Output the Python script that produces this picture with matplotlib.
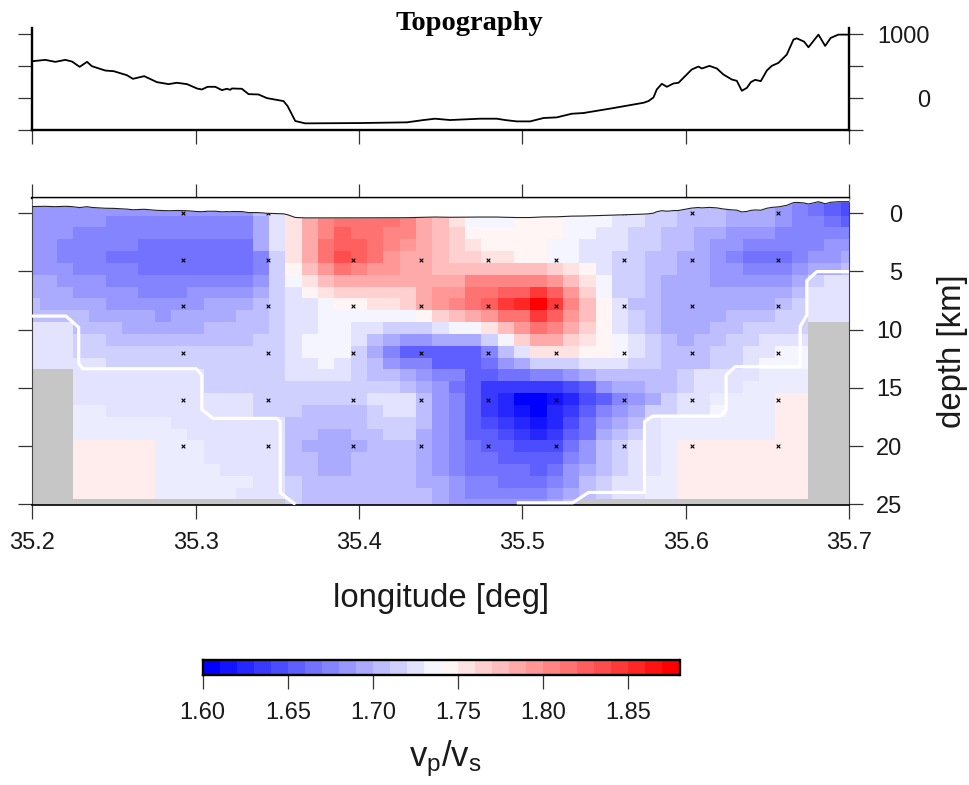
import numpy as np
import matplotlib
matplotlib.use("Agg")
import matplotlib.pyplot as plt
from matplotlib.colors import Normalize

plt.rcParams['font.family'] = ['Liberation Sans', 'DejaVu Sans']
plt.rcParams['mathtext.fontset'] = 'custom'
plt.rcParams['mathtext.rm'] = 'Liberation Sans'
plt.rcParams['mathtext.default'] = 'regular'

W, H = 969, 785

# topography profile, lon [deg] / elevation [m]
topo_lon = [35.2, 35.208, 35.2141, 35.2202, 35.2243, 35.229, 35.2335, 35.2365, 35.2447, 35.2498,
            35.2579, 35.2616, 35.2685, 35.2763, 35.2834, 35.2885, 35.2947, 35.3008, 35.3038, 35.3073,
            35.312, 35.3161, 35.3191, 35.3212, 35.3222, 35.3283, 35.3324, 35.3385, 35.3436, 35.3538,
            35.3563, 35.361, 35.3671, 35.4007, 35.4293, 35.4395, 35.4466, 35.4558, 35.474, 35.4844,
            35.4895, 35.4966, 35.5048, 35.513, 35.5211, 35.5303, 35.5374, 35.5558, 35.5742, 35.5772,
            35.5803, 35.5823, 35.5854, 35.5885, 35.5925, 35.5956, 35.6037, 35.6078, 35.6099, 35.6146,
            35.6191, 35.6231, 35.6282, 35.6313, 35.6344, 35.6375, 35.6399, 35.6425, 35.646, 35.6497,
            35.6527, 35.6568, 35.6619, 35.666, 35.668, 35.6725, 35.6752, 35.6813, 35.6854, 35.6888,
            35.6935, 35.7]
topo_elev = [578, 599, 568, 599, 573, 490, 568, 500, 432, 422,
             359, 302, 344, 250, 219, 240, 219, 151, 135, 177,
             177, 125, 146, 130, 151, 146, 62, 57, 0, -47,
             -125, -359, -396, -391, -380, -344, -323, -344, -323, -323,
             -344, -365, -365, -312, -302, -245, -234, -156, -73, -47,
             10, 135, 224, 177, 229, 240, 448, 495, 464, 505,
             464, 370, 292, 271, 115, 161, 250, 286, 266, 432,
             505, 552, 682, 917, 937, 885, 797, 995, 818, 943,
             995, 995]

# vp/vs model, one char per cell: base-36 bin number on the colour scale
# x, y = paler in-between shades, . = no data
vpvs_rows = [
    "88888888888888acfiklllkkihfdddeeedddccbbaaa99987654",
    "888887777777779cfikllllkihfdddeeedddccbbaaa99987765",
    "888777777777779cfikmllkkihgeeeeeeddccbbaa9988877777",
    "887777766666669cfilmmlkjihgfeeeeddcccbbaa9887777788",
    "887776666666667bfilnmljiihggffeeddccbbaa99876667889",
    "888777766666667behjlkjjiihhhhhhhgfecbbaa9988777899a",
    "998887777777778bdfhiiiiiiiikkkkkjhfdbba99988888 9bcc".replace(" ", ""),
    "999888877788889bcefgggggijjllmmomjgdbba99999999accc",
    "a9999888888999abccdeeffgijklmoprokhecaa9999999abccc",
    "aaaa999989999aabccddddddeghijllomjhecba9999aaabbccc",
    "cccaaa99999aaaabccddccbbbcddfhjlkigecba999aabbbb...",
    "cccbbaaaaaaaaabbcdddca988999bdgiigfedcba9aabbccc...",
    "cccbbbbbbbbbbbbbcdddb97555557acfffeedcbaaabbccdd...",
    "cccccbbbbbbbbbbbccdcba877555689bbbcccbbaaabbcddd...",
    "...ccccccccbbbbbccccbaa987755667789aaaaabccccxxx...",
    "...ccccccccbbbbbbbbbbbba98653333345899aabcccxxxx...",
    "...cccccccccccbbbbbbbccca87532001245789bccxxxxyy...",
    "...xxcccccccccbbbaaaabcca8753210235789bbccdxxxyy...",
    "...xxxxxxcccccccaaaaabbba875432124689acxxxxxxxyy...",
    "...xxxxxxxccccccaa99aabb987554323569abcxxxxxxxyy...",
    "...yyyyyxxxccccca9999aaa98765544468abccxyyyyyyyy...",
    "...yyyyyxxxcccccaa99aaaa98766555578abccxyyyyyyyy...",
    "...yyyyyxxxxccccaa99aaaa98766665689abccxyyyyyyyy...",
    "...yyyyyxxxxxxccbaaaaaaa9987766678abccxxyyyyyyyy...",
    "...yyyyyxxxxxcccbaaaaaaaa987777789abccxxyyyyyyyy...",
    "................baaaaaaaa98888889a.................",
]
shade_bins = {"x": 12.5, "y": 14.5}

# grid edges
lon_edges = np.concatenate([[35.2], 35.205 + 0.01 * np.arange(50), [35.7]])
depth_edges = np.concatenate([[-1.33], 0.2 + 1.016 * np.arange(25), [25.05]])

# hit-count contour
contour_left_lon = [35.2, 35.2206, 35.2284, 35.2284, 35.2308, 35.3004, 35.3038, 35.3038, 35.3106,
                    35.3497, 35.3518, 35.3518, 35.3603]
contour_left_dep = [8.83, 8.83, 9.8, 12.9, 13.35, 13.35, 13.9, 16.85, 17.62, 17.62, 17.9, 24.0, 24.93]
contour_right_lon = [35.4976, 35.5309, 35.5405, 35.5748, 35.5748, 35.5799, 35.6211, 35.6248, 35.6248,
                     35.6303, 35.6701, 35.6701, 35.6742, 35.6742, 35.6803, 35.7]
contour_right_dep = [24.87, 24.87, 23.98, 23.98, 17.9, 17.42, 17.42, 16.9, 13.9, 13.18, 13.18, 9.74,
                     8.74, 5.79, 5.01, 5.01]

node_lon = [35.2924, 35.3442, 35.3965, 35.4377, 35.4792, 35.5208, 35.5625, 35.6041, 35.6563]
node_dep = [0, 4, 8, 12, 16, 20]

lon_ticks = [35.2, 35.3, 35.4, 35.5, 35.6, 35.7]
depth_ticks = [0, 5, 10, 15, 20, 25]
elev_ticks = [-500, 0, 500, 1000]
elev_labels = ["", "0", "", "1000"]
bar_ticks = [1.60, 1.65, 1.70, 1.75, 1.80, 1.85]

TXT = "#1a1a1a"


def decode(rows):
    vals = []
    for row in rows:
        line = []
        for c in row:
            if c == ".":
                line.append(np.nan)
            else:
                line.append(1.605 + 0.01 * shade_bins.get(c, int(c, 36)))
        vals.append(line)
    return np.array(vals)


def px_axes(fig, left, top, right, bottom):
    return fig.add_axes([left / W, 1 - bottom / H, (right - left) / W, (bottom - top) / H])


def tick_style(ax):
    ax.tick_params(length=10, width=0.9, color="#333333", labelsize=17, labelcolor=TXT)


cmap = plt.get_cmap("bwr", 540).copy()
cmap.set_bad("#c6c6c6")
norm = Normalize(1.605, 1.875)

fig = plt.figure(figsize=(W / 100, H / 100), dpi=100)

# --- top panel: topography ---
ax1 = px_axes(fig, 32.3, 28.3, 849, 130)
ax1.plot(topo_lon, topo_elev, color="black", lw=1.3)
ax1.set_xlim(35.2, 35.7)
ax1.set_ylim(-500, 1094)
ax1.spines["top"].set_visible(False)
for s in ["left", "right", "bottom"]:
    ax1.spines[s].set_linewidth(1.7)
ax1.set_xticks(lon_ticks)
ax1.set_xticklabels([])
ax1.set_yticks(elev_ticks)
ax1.set_yticklabels(elev_labels)
tick_style(ax1)
ax1.tick_params(axis="y", left=True, right=True, labelleft=False, labelright=True, pad=48.3)
for lab in ax1.get_yticklabels():
    lab.set_ha("right")
fig.text(469 / W, 1 - 23 / H, "Topography", family=["Liberation Serif"], weight="bold",
         fontsize=20.5, ha="center", va="center")

# --- main panel: vp/vs section ---
ax2 = px_axes(fig, 32.3, 197.8, 849, 504.9)
ax2.pcolormesh(lon_edges, depth_edges, np.ma.masked_invalid(decode(vpvs_rows)), cmap=cmap, norm=norm,
               linewidth=0, rasterized=True)
lon_grid, dep_grid = np.meshgrid(node_lon, node_dep)
ax2.scatter(lon_grid.ravel(), dep_grid.ravel(), marker="x", s=7, color="black", linewidths=0.8, zorder=3)
ax2.plot(contour_left_lon, contour_left_dep, color="white", lw=2.3, zorder=4)
ax2.plot(contour_right_lon, contour_right_dep, color="white", lw=2.3, zorder=4)
topo_depth = -np.array(topo_elev) / 1000.0
ax2.fill_between(topo_lon, -1.33, topo_depth, color="white", lw=0, zorder=5)
ax2.plot(topo_lon, topo_depth, color="#222222", lw=0.8, zorder=6)
ax2.set_xlim(35.2, 35.7)
ax2.set_ylim(25.05, -1.33)
ax2.set_xticks(lon_ticks)
ax2.set_xticklabels([f"{v:.1f}" for v in lon_ticks])
ax2.set_yticks(depth_ticks)
tick_style(ax2)
ax2.tick_params(axis="x", top=True, bottom=True, pad=9.5)
ax2.tick_params(axis="y", left=True, right=True, labelleft=False, labelright=True, pad=28.6)
for lab in ax2.get_yticklabels():
    lab.set_ha("right")
ax2.spines["top"].set_linewidth(1.7)
ax2.spines["bottom"].set_linewidth(1.2)
ax2.spines["left"].set_linewidth(0.8)
ax2.spines["right"].set_linewidth(0.8)
ax2.spines["left"].set_color("#444444")
ax2.spines["right"].set_color("#444444")
fig.text(441 / W, 1 - 598 / H, "longitude [deg]", fontsize=23.7, ha="center", va="center", color=TXT)
fig.text(953 / W, 1 - 351 / H, "depth [km]", fontsize=23.7, rotation=90, ha="center", va="center", color=TXT)

# --- colour bar ---
bar_edges = 1.60 + 0.01 * np.arange(29)
bar_vals = (bar_edges[:-1] + bar_edges[1:]) / 2
cax = px_axes(fig, 202.7, 660.3, 679.5, 674.5)
cax.pcolormesh(bar_edges, [0, 1], bar_vals[np.newaxis, :], cmap=cmap, norm=norm)
cax.set_xlim(1.60, 1.88)
cax.set_yticks([])
cax.set_xticks(bar_ticks)
cax.set_xticklabels([f"{v:.2f}" for v in bar_ticks])
tick_style(cax)
cax.tick_params(axis="x", pad=10)
for s in cax.spines.values():
    s.set_linewidth(1.7)
fig.text(445 / W, 1 - 759 / H, "$v_p/v_s$", fontsize=25, ha="center", va="center", color=TXT)

fig.savefig("out.png", dpi=100)
